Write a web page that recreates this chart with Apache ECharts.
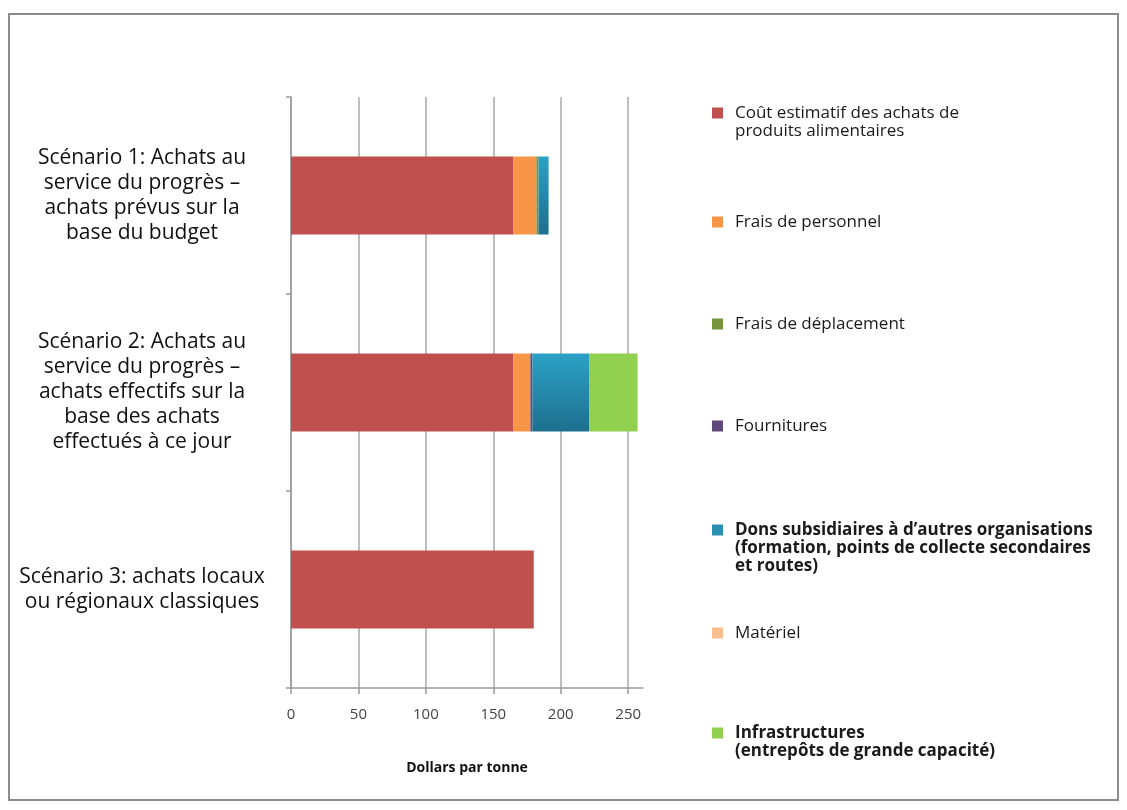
<!DOCTYPE html>
<html>
<head>
<meta charset="utf-8">
<script src="https://cdn.jsdelivr.net/npm/echarts@6/dist/echarts.min.js"></script>
<style>html,body{margin:0;padding:0;background:#fff}#c{width:1127px;height:810px}</style>
</head>
<body>
<div id="c"></div>
<script>
var categories = [
  "Scénario 1: Achats au\nservice du progrès –\nachats prévus sur la\nbase du budget",
  "Scénario 2: Achats au\nservice du progrès –\nachats effectifs sur la\nbase des achats\neffectués à ce jour",
  "Scénario 3: achats locaux\nou régionaux classiques"
];
var seriesNames = [
  "Coût estimatif des achats de\nproduits alimentaires",
  "Frais de personnel",
  "Frais de déplacement",
  "Fournitures",
  "Dons subsidiaires à d’autres organisations\n(formation, points de collecte secondaires\net routes)",
  "Matériel",
  "Infrastructures\n(entrepôts de grande capacité)"
];
var foodCost   = [165, 165, 180];
var staffCost  = [17, 12.5, 0];
var travelCost = [1.5, 0, 0];
var supplies   = [0, 1.5, 0];
var grants     = [7.5, 42, 0];
var equipment  = [0, 0, 0];
var infra      = [0, 36, 0];
var xTicks = [0, 50, 100, 150, 200, 250];

var colors = ["#C0504D", "#F79646", "#77933C", "#604A7B", "#2B8FB0", "#FAC090", "#92D050"];
var values = [foodCost, staffCost, travelCost, supplies, grants, equipment, infra];
var FONT = "Open Sans";

var series = seriesNames.map(function (n, i) {
  var color = colors[i];
  if (i === 4) {
    color = new echarts.graphic.LinearGradient(0, 0, 0, 1, [
      {offset: 0, color: "#2BA2C6"}, {offset: 1, color: "#1E6F8E"}
    ]);
  }
  return {
    name: n, type: "bar", stack: "total", barWidth: 78,
    itemStyle: {color: color},
    data: values[i]
  };
});

// legend positions (icon centre y) — one legend component per entry
var legendIconY = [113, 222, 324, 426, 530, 633, 733];
var legendLines = [2, 1, 1, 1, 3, 1, 2];
var legendBold  = [false, false, false, false, true, false, true];
var LH = 18;
var legends = seriesNames.map(function (n, i) {
  var nl = legendLines[i];
  var top = legendIconY[i] - (2 * nl - 1) * LH / 2;
  return {
    data: [{name: n, itemStyle: {color: colors[i]}}],
    orient: "vertical", left: 712, top: top, padding: 0,
    icon: "rect", itemWidth: 11, itemHeight: 11, itemGap: 0,
    selectedMode: false,
    formatter: function (name) {
      var pre = "";
      for (var k = 1; k < nl; k++) pre += "\n";
      return pre + name;
    },
    textStyle: {
      fontFamily: FONT, fontSize: 17, color: "#1a1a1a", lineHeight: LH,
      fontWeight: legendBold[i] ? "bold" : "normal",
      padding: [0, 0, 0, 7]
    }
  };
});

var chart = echarts.init(document.getElementById("c"), null, {renderer: "canvas"});
chart.setOption({
  backgroundColor: "#fff",
  animation: false,
  graphic: [{
    type: "rect", shape: {x: 9, y: 14, width: 1109, height: 786},
    style: {fill: "none", stroke: "#8c8c8c", lineWidth: 2}, silent: true
  }],
  legend: legends,
  grid: {left: 291, top: 97, right: 484, bottom: 122, containLabel: false},
  xAxis: {
    type: "value", min: 0, max: 261, interval: 50,
    name: "Dollars par tonne", nameLocation: "middle", nameGap: 73,
    nameTextStyle: {fontFamily: FONT, fontSize: 14, fontWeight: "bold", color: "#111"},
    axisLine: {show: true, lineStyle: {color: "#9a9a9a", width: 1.5}},
    axisTick: {show: true, length: 6, lineStyle: {color: "#9a9a9a", width: 1.5}},
    axisLabel: {
      fontFamily: FONT, fontSize: 15, color: "#444", margin: 19, showMaxLabel: false,
      formatter: function (v) { return xTicks.indexOf(v) >= 0 ? String(v) : ""; }
    },
    splitLine: {show: true, showMaxLine: false, lineStyle: {color: "#a8a8a8", width: 1.5}}
  },
  yAxis: {
    type: "category", inverse: true, data: categories,
    axisLine: {show: true, lineStyle: {color: "#9a9a9a", width: 1.5}},
    axisTick: {show: true, length: 5, lineStyle: {color: "#9a9a9a", width: 1.5}},
    axisLabel: {
      fontFamily: FONT, fontSize: 21, color: "#111", lineHeight: 25,
      align: "center", margin: 149
    },
    splitLine: {show: false}
  },
  series: series
});
</script>
</body>
</html>
